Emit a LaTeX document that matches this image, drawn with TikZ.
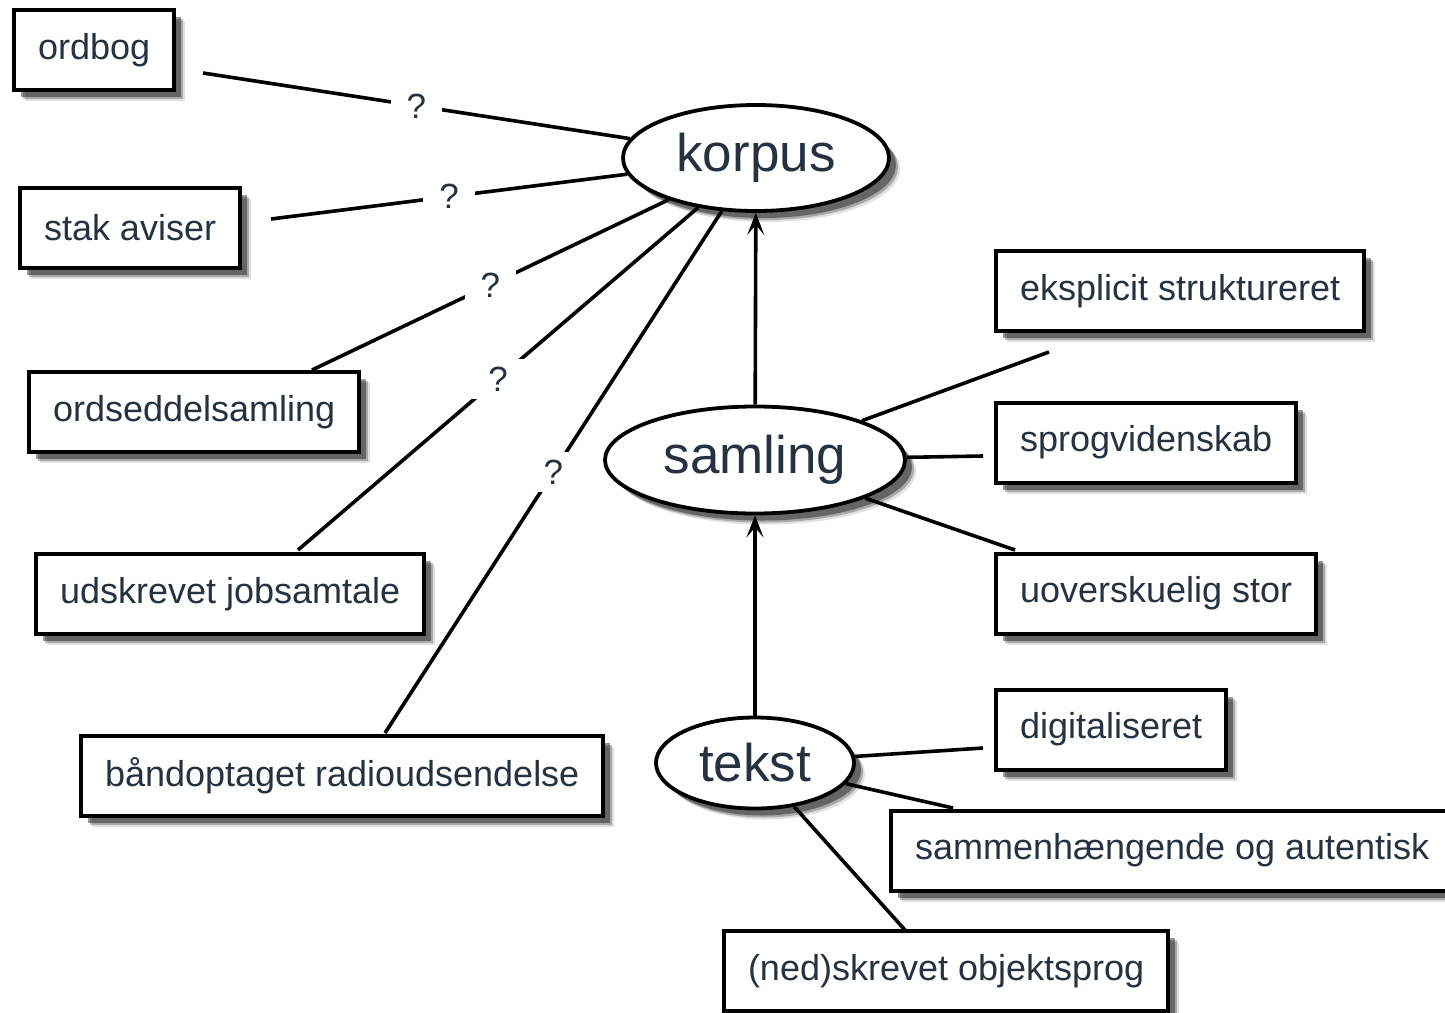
\documentclass[tikz,border=0pt]{standalone}
\usepackage{fontspec}
\setmainfont{Liberation Sans}
\usetikzlibrary{shapes.geometric,shadows,arrows.meta}
\definecolor{txt}{RGB}{38,50,64}
\tikzset{
  myshadow/.style={
    drop shadow={shadow xshift=11pt,shadow yshift=-11pt,fill=black,opacity=0.12},
    drop shadow={shadow xshift=9pt,shadow yshift=-9pt,fill=black,opacity=0.25},
    drop shadow={shadow xshift=7pt,shadow yshift=-7pt,fill=black,opacity=0.4}},
  box/.style={draw=black,line width=4pt,fill=white,rectangle,anchor=west,
    minimum height=80pt,inner xsep=24pt,text=txt,font=\fontsize{36}{40}\selectfont,myshadow},
  ell/.style={draw=black,line width=3.8pt,fill=white,ellipse,inner sep=0pt,
    text=txt,font=\fontsize{53}{60}\selectfont,myshadow},
  conn/.style={draw=black,line width=3.6pt},
  qlabel/.style={fill=white,text=txt,font=\fontsize{35}{38}\selectfont,inner xsep=16pt,inner ysep=8pt},
  arr/.style={conn,-{Stealth[length=22pt,width=17pt,inset=10pt]}}
}
\begin{document}
\begin{tikzpicture}[x=1pt,y=-1pt]
\useasboundingbox (0,0) rectangle (1445,1012);
% ellipses
\node[ell,minimum width=266pt,minimum height=106pt] (korpus) at (756,158) {korpus};
\node[ell,minimum width=300pt,minimum height=107pt] (samling) at (755,460) {samling};
\node[ell,minimum width=198pt,minimum height=91pt] (tekst) at (755,763) {tekst};
% boxes
\node[box] (ordbog) at (12,50) {ordbog};
\node[box] (stak) at (18,227.5) {stak aviser};
\node[box] (ordseddel) at (27,412) {ordseddelsamling};
\node[box] (udskrevet) at (34,594) {udskrevet jobsamtale};
\node[box] (baand) at (79,776) {båndoptaget radioudsendelse};
\node[box] (eksplicit) at (994,291) {eksplicit struktureret};
\node[box] (sprog) at (994,442.5) {sprogvidenskab};
\node[box] (uovers) at (994,593.5) {uoverskuelig stor};
\node[box] (digital) at (994,729.5) {digitaliseret};
\node[box] (sammen) at (889,850.5) {sammenhængende og autentisk};
\node[box] (nedskr) at (722,971) {(ned)skrevet objektsprog};
% free ends
\coordinate (cOrdbog) at (203,73);
\coordinate (cStak) at (271,219);
\coordinate (cOrdseddel) at (312,370);
\coordinate (cUdskrevet) at (298,550);
\coordinate (cBaand) at (385,733);
\coordinate (cEksplicit) at (1049,352);
\coordinate (cSprog) at (983,456);
\coordinate (cUovers) at (1015,550);
\coordinate (cDigital) at (983,748);
\coordinate (cSammen) at (953,808);
\coordinate (cNedskr) at (905,930);
% connectors with question marks
\draw[conn] (cOrdbog) -- node[qlabel]{?} (korpus);
\draw[conn] (cStak) -- node[qlabel]{?} (korpus);
\draw[conn] (cOrdseddel) -- node[qlabel]{?} (korpus);
\draw[conn] (cUdskrevet) -- node[qlabel]{?} (korpus);
\draw[conn] (cBaand) -- node[qlabel]{?} (korpus);
% right side
\draw[conn] (samling) -- (cEksplicit);
\draw[conn] (samling) -- (cSprog);
\draw[conn] (samling) -- (cUovers);
\draw[conn] (tekst) -- (cDigital);
\draw[conn] (tekst) -- (cSammen);
\draw[conn] (tekst) -- (cNedskr);
% arrows
\draw[arr] (samling) -- (korpus);
\draw[arr] (tekst) -- (samling);
\end{tikzpicture}
\end{document}
